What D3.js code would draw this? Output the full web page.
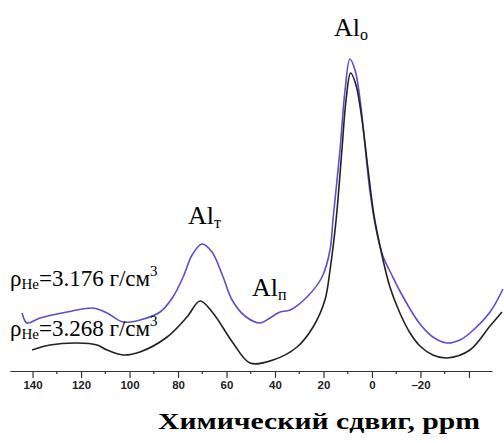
<!DOCTYPE html>
<html lang="ru">
<head>
<meta charset="utf-8" />
<style>
  body { margin: 0; background: #fff; }
  svg { display: block; }
  .axis path, .axis line { stroke: #333; stroke-width: 1.2px; }
  .axis text { font-family: "Liberation Sans Narrow", "Liberation Sans", Arial, sans-serif; font-weight: bold; font-size: 11.5px; fill: #222; }
  .lbl { font-family: "Liberation Serif", "Times New Roman", serif; fill: #000; }
  .curve { fill: none; stroke-width: 1.6px; }
</style>
</head>
<body>
<svg width="504" height="443"></svg>
<script src="https://d3js.org/d3.v7.min.js"></script>
<script>
// chemical shift, ppm, and intensity (arb. units) for both samples
var ppmBlue = [144.3, 142.3, 136.9, 125.8, 115.1, 109.3, 102.7, 95.7, 87.4, 82.1, 77.9, 74.2, 70.1, 66.0, 61.4, 57.7, 52.4, 46.2, 42.1, 37.9, 33.8, 26.8, 20.6, 17.3, 16.1, 13.2, 11.1, 9.1, 7.0, 4.9, 2.9, 0.8, -1.6, -4.5, -8.2, -11.5, -15.7, -19.8, -25.1, -30.9, -36.3, -40.4, -48.7, -54.0];
var intBlue = [59, 49, 54, 60, 64, 59, 50, 52, 60, 75, 95, 117, 128, 120, 95, 72, 56, 49, 54, 60, 62, 75, 95, 122, 152, 222, 282, 313, 302, 272, 227, 180, 144, 116, 97, 81, 63, 48, 35, 29, 32, 39, 60, 83];

var ppmBlack = [140.2, 132.8, 121.6, 113.4, 109.3, 102.7, 95.7, 84.5, 76.3, 70.9, 65.6, 57.3, 50.3, 40.8, 30.9, 24.3, 19.4, 17.3, 14.8, 12.4, 10.7, 8.8, 6.6, 4.1, 1.6, -0.8, -4.1, -7.4, -11.5, -15.7, -19.8, -25.1, -30.9, -40.4, -48.7, -53.6];
var intBlack = [22, 27, 29, 27, 22, 17, 20, 35, 55, 71, 59, 29, 9, 12, 25, 45, 72, 102, 152, 222, 272, 299, 287, 252, 202, 157, 117, 85, 59, 39, 26, 17, 14, 22, 46, 60];

var tickValues = [140, 120, 100, 80, 60, 40, 20, 0, -20, -40];
var minorTicks = [130, 110, 90, 70, 50, 30, 10, -10, -30];

var svg = d3.select("svg");

var x = d3.scaleLinear().domain([149.3, -49.5]).range([10, 492]);
var y = d3.scaleLinear().domain([0, 320]).range([372, 52]);

var line = d3.line()
  .x(function(d) { return x(d[0]); })
  .y(function(d) { return y(d[1]); })
  .curve(d3.curveCatmullRom.alpha(0.5));

svg.append("path")
  .attr("class", "curve")
  .attr("stroke", "#5a4fcc")
  .attr("d", line(d3.zip(ppmBlue, intBlue)));

svg.append("path")
  .attr("class", "curve")
  .attr("stroke", "#222")
  .attr("d", line(d3.zip(ppmBlack, intBlack)));

// axis
var axis = d3.axisBottom(x)
  .tickValues(tickValues)
  .tickSize(7)
  .tickSizeOuter(0)
  .tickPadding(3)
  .tickFormat(function(d) { return d === -40 ? "" : (d < 0 ? "\u2013" + Math.abs(d) : d); });

var gx = svg.append("g")
  .attr("class", "axis")
  .attr("transform", "translate(0,371)")
  .call(axis);

gx.selectAll(".minor")
  .data(minorTicks)
  .enter().append("line")
  .attr("class", "minor")
  .attr("x1", function(d) { return x(d); })
  .attr("x2", function(d) { return x(d); })
  .attr("y1", 0)
  .attr("y2", 3);

// peak labels
function alLabel(px, py, sub) {
  var t = svg.append("text").attr("class", "lbl").attr("x", px).attr("y", py).style("font-size", "26px");
  t.append("tspan").text("Al");
  t.append("tspan").attr("dy", 4).style("font-size", "16px").text(sub);
}
alLabel(334, 36, "о");
alLabel(188, 224, "т");
alLabel(252, 296, "п");

function rhoLabel(px, py, val) {
  var t = svg.append("text").attr("class", "lbl").attr("x", px).attr("y", py).style("font-size", "23px");
  t.append("tspan").text("ρ");
  t.append("tspan").attr("dy", 3).style("font-size", "15px").text("He");
  t.append("tspan").attr("dy", -3).text("=" + val + " г/см");
  t.append("tspan").attr("dy", -10).style("font-size", "15px").text("3");
}
rhoLabel(10, 286, "3.176");
rhoLabel(10, 336, "3.268");

svg.append("text")
  .attr("class", "lbl")
  .attr("x", 158)
  .attr("y", 429)
  .attr("textLength", 322)
  .attr("lengthAdjust", "spacingAndGlyphs")
  .style("font-size", "24px")
  .style("font-weight", "bold")
  .text("Химический сдвиг, ppm");
</script>
</body>
</html>
